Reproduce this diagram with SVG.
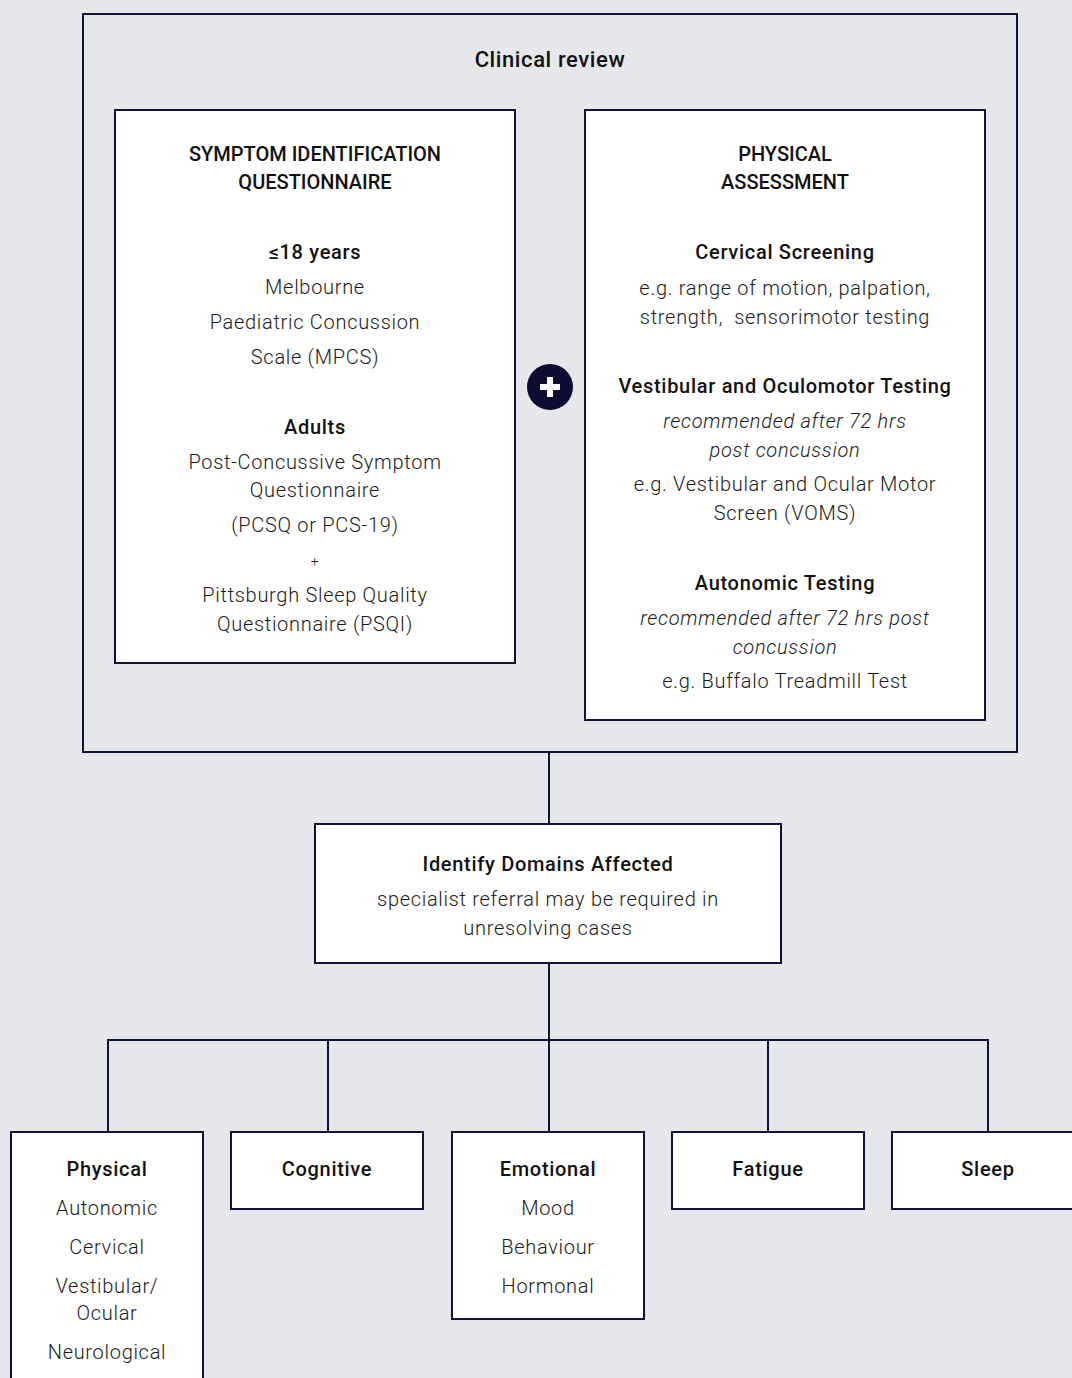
<svg xmlns="http://www.w3.org/2000/svg" width="1072" height="1378" viewBox="0 0 1072 1378">
<style>
.bg{fill:#e6e7ea}
.box{fill:#ffffff;stroke:#12113a;stroke-width:2}
.frame{fill:none;stroke:#12113a;stroke-width:2}
.ln{fill:none;stroke:#12113a;stroke-width:2}
text{font-family:Roboto,"Liberation Sans",sans-serif;fill:#1a1a1a;text-anchor:middle;font-size:20px;letter-spacing:0.7px}
.b{font-weight:500;fill:#111}
.h{font-weight:500;fill:#111;letter-spacing:0px}
.r{font-weight:300}
.i{font-weight:300;font-style:italic}
.s{font-size:14px;font-weight:300}
</style>
<rect class="bg" x="0" y="0" width="1072" height="1378"/>
<g id="clinical-review">
<rect class="frame" x="83" y="14" width="934" height="738"/>
<text class="b" x="550" y="67" style="font-size:22px;letter-spacing:0.6px">Clinical review</text>
</g>
<g id="symptom-questionnaire">
<rect class="box" x="115" y="110" width="400" height="553"/>
<text class="h" x="315" y="161">SYMPTOM IDENTIFICATION</text>
<text class="h" x="315" y="189">QUESTIONNAIRE</text>
<text class="b" x="315" y="259">≤18 years</text>
<text class="r" x="315" y="294">Melbourne</text>
<text class="r" x="315" y="329">Paediatric Concussion</text>
<text class="r" x="315" y="364">Scale (MPCS)</text>
<text class="b" x="315" y="434">Adults</text>
<text class="r" x="315" y="469">Post-Concussive Symptom</text>
<text class="r" x="315" y="497">Questionnaire</text>
<text class="r" x="315" y="532">(PCSQ or PCS-19)</text>
<text class="s" x="315" y="566">+</text>
<text class="r" x="315" y="602">Pittsburgh Sleep Quality</text>
<text class="r" x="315" y="631">Questionnaire (PSQI)</text>
</g>
<g id="plus">
<circle cx="550" cy="387" r="23" fill="#0d0c33"/>
<rect x="540" y="384" width="20" height="6" fill="#ffffff"/>
<rect x="547" y="377" width="6" height="20" fill="#ffffff"/>
</g>
<g id="physical-assessment">
<rect class="box" x="585" y="110" width="400" height="610"/>
<text class="h" x="785" y="161">PHYSICAL</text>
<text class="h" x="785" y="189">ASSESSMENT</text>
<text class="b" x="785" y="259">Cervical Screening</text>
<text class="r" x="785" y="295">e.g. range of motion, palpation,</text>
<text class="r" x="785" y="324">strength,&#160; sensorimotor testing</text>
<text class="b" x="785" y="393">Vestibular and Oculomotor Testing</text>
<text class="i" x="785" y="428">recommended after 72 hrs</text>
<text class="i" x="785" y="457">post concussion</text>
<text class="r" x="785" y="491">e.g. Vestibular and Ocular Motor</text>
<text class="r" x="785" y="520">Screen (VOMS)</text>
<text class="b" x="785" y="590">Autonomic Testing</text>
<text class="i" x="785" y="625">recommended after 72 hrs post</text>
<text class="i" x="785" y="654">concussion</text>
<text class="r" x="785" y="688">e.g. Buffalo Treadmill Test</text>
</g>
<g id="connectors">
<line class="ln" x1="549" y1="752" x2="549" y2="824"/>
<line class="ln" x1="549" y1="963" x2="549" y2="1132"/>
<polyline class="ln" points="108,1132 108,1040 988,1040 988,1132"/>
<line class="ln" x1="328" y1="1040" x2="328" y2="1132"/>
<line class="ln" x1="768" y1="1040" x2="768" y2="1132"/>
</g>
<g id="identify-domains">
<rect class="box" x="315" y="824" width="466" height="139"/>
<text class="b" x="548" y="871">Identify Domains Affected</text>
<text class="r" x="548" y="906">specialist referral may be required in</text>
<text class="r" x="548" y="935">unresolving cases</text>
</g>
<g id="physical">
<rect class="box" x="11" y="1132" width="192" height="260"/>
<text class="b" x="107" y="1176">Physical</text>
<text class="r" x="107" y="1215">Autonomic</text>
<text class="r" x="107" y="1254">Cervical</text>
<text class="r" x="107" y="1293">Vestibular/</text>
<text class="r" x="107" y="1320">Ocular</text>
<text class="r" x="107" y="1359">Neurological</text>
</g>
<g id="cognitive">
<rect class="box" x="231" y="1132" width="192" height="77"/>
<text class="b" x="327" y="1176">Cognitive</text>
</g>
<g id="emotional">
<rect class="box" x="452" y="1132" width="192" height="187"/>
<text class="b" x="548" y="1176">Emotional</text>
<text class="r" x="548" y="1215">Mood</text>
<text class="r" x="548" y="1254">Behaviour</text>
<text class="r" x="548" y="1293">Hormonal</text>
</g>
<g id="fatigue">
<rect class="box" x="672" y="1132" width="192" height="77"/>
<text class="b" x="768" y="1176">Fatigue</text>
</g>
<g id="sleep">
<rect class="box" x="892" y="1132" width="192" height="77"/>
<text class="b" x="988" y="1176">Sleep</text>
</g>
</svg>
